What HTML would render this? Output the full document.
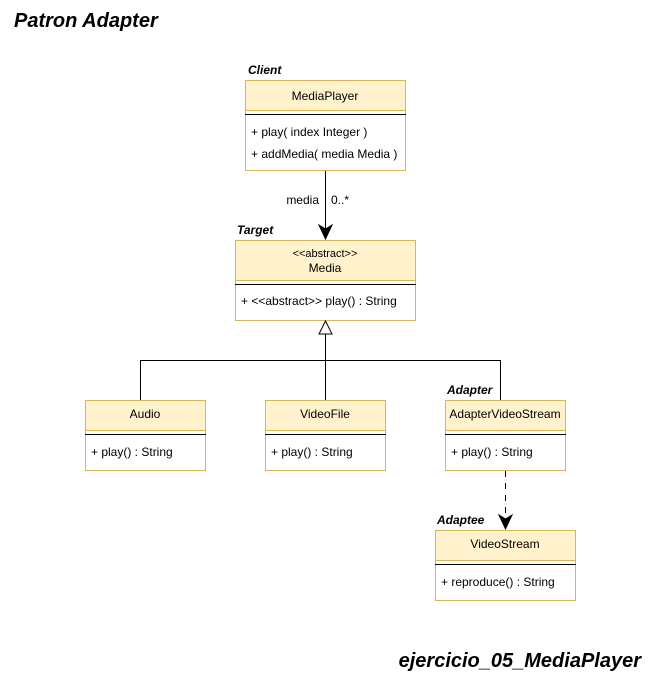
<!DOCTYPE html>
<html><head><meta charset="utf-8"><style>
body{margin:0;background:#fff;}
svg text{font-family:"Liberation Sans",Arial,sans-serif;font-size:12px;fill:#000;}
.t{font-style:italic;font-weight:bold;font-size:12px;}
</style></head><body>
<svg width="655" height="681" viewBox="0 0 655 681" xmlns="http://www.w3.org/2000/svg">
<text x="14" y="27" style="font-size:20px;font-style:italic;font-weight:bold">Patron Adapter</text>
<text x="641" y="667" text-anchor="end" style="font-size:20px;font-style:italic;font-weight:bold">ejercicio_05_MediaPlayer</text>

<!-- MediaPlayer -->
<text class="t" x="248" y="74">Client</text>
<rect x="245.5" y="80.5" width="160" height="90" fill="#fff" stroke="#d6b656"/>
<rect x="245.5" y="80.5" width="160" height="30" fill="#fff2cc" stroke="#d6b656"/>
<line x1="245" y1="114.5" x2="406" y2="114.5" stroke="#000"/>
<text x="325" y="100" text-anchor="middle">MediaPlayer</text>
<text x="251" y="136">+ play( index Integer )</text>
<text x="251" y="158">+ addMedia( media Media )</text>

<line x1="325.5" y1="171" x2="325.5" y2="232" stroke="#000"/>
<path d="M319 225 L325.5 239 L332 225 L325.5 229 Z" fill="#000" stroke="#000"/>
<text x="319" y="204" text-anchor="end">media</text>
<text x="331" y="204">0..*</text>

<!-- Media -->
<text class="t" x="237" y="234">Target</text>
<rect x="235.5" y="240.5" width="180" height="80" fill="#fff" stroke="#d6b656"/>
<rect x="235.5" y="240.5" width="180" height="40" fill="#fff2cc" stroke="#d6b656"/>
<line x1="235" y1="284.5" x2="416" y2="284.5" stroke="#000"/>
<text x="325" y="257" text-anchor="middle" style="font-size:11px">&lt;&lt;abstract&gt;&gt;</text>
<text x="325" y="272" text-anchor="middle">Media</text>
<text x="241" y="305">+ &lt;&lt;abstract&gt;&gt; play() : String</text>

<!-- inheritance -->
<polygon points="325.5,321 319,334 332,334" fill="#fff" stroke="#000"/>
<line x1="325.5" y1="334" x2="325.5" y2="400" stroke="#000"/>
<polyline points="140.5,400 140.5,360.5 500.5,360.5 500.5,400" fill="none" stroke="#000"/>

<!-- Audio -->
<rect x="85.5" y="400.5" width="120" height="70" fill="#fff" stroke="#d6b656"/>
<rect x="85.5" y="400.5" width="120" height="30" fill="#fff2cc" stroke="#d6b656"/>
<line x1="85" y1="434.5" x2="206" y2="434.5" stroke="#000"/>
<text x="145" y="418" text-anchor="middle">Audio</text>
<text x="91" y="456">+ play() : String</text>

<!-- VideoFile -->
<rect x="265.5" y="400.5" width="120" height="70" fill="#fff" stroke="#d6b656"/>
<rect x="265.5" y="400.5" width="120" height="30" fill="#fff2cc" stroke="#d6b656"/>
<line x1="265" y1="434.5" x2="386" y2="434.5" stroke="#000"/>
<text x="325" y="418" text-anchor="middle">VideoFile</text>
<text x="271" y="456">+ play() : String</text>

<!-- AdapterVideoStream -->
<text class="t" x="447" y="394">Adapter</text>
<rect x="445.5" y="400.5" width="120" height="70" fill="#fff" stroke="#d6b656"/>
<rect x="445.5" y="400.5" width="120" height="30" fill="#fff2cc" stroke="#d6b656"/>
<line x1="445" y1="434.5" x2="566" y2="434.5" stroke="#000"/>
<text x="505" y="418" text-anchor="middle">AdapterVideoStream</text>
<text x="451" y="456">+ play() : String</text>

<line x1="505.5" y1="471" x2="505.5" y2="522" stroke="#000" stroke-dasharray="6,6"/>
<path d="M499 515 L505.5 529 L512 515 L505.5 519 Z" fill="#000" stroke="#000"/>

<!-- VideoStream -->
<text class="t" x="437" y="524">Adaptee</text>
<rect x="435.5" y="530.5" width="140" height="70" fill="#fff" stroke="#d6b656"/>
<rect x="435.5" y="530.5" width="140" height="30" fill="#fff2cc" stroke="#d6b656"/>
<line x1="435" y1="564.5" x2="576" y2="564.5" stroke="#000"/>
<text x="505" y="548" text-anchor="middle">VideoStream</text>
<text x="441" y="586">+ reproduce() : String</text>
</svg>
</body></html>
